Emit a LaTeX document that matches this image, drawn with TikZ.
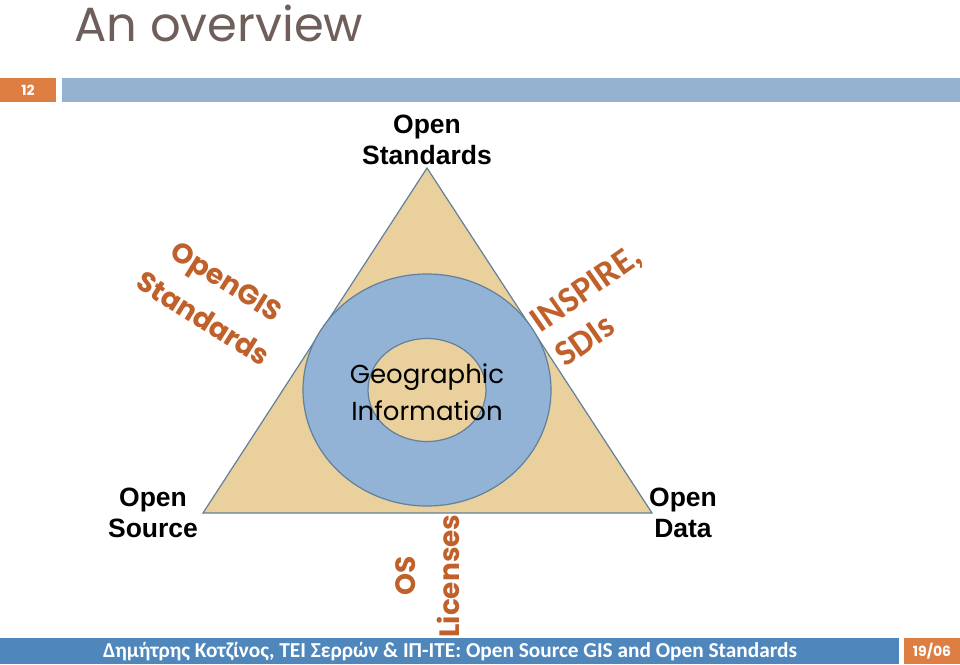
\documentclass[tikz,border=0pt]{standalone}
\usepackage{fontspec}
\setmainfont{Liberation Sans}
\newfontfamily\geofont{Poppins}
\newfontfamily\carlfont{Carlito}
\usetikzlibrary{positioning}

\definecolor{titlegray}{HTML}{6E5F5B}
\definecolor{barblue}{HTML}{94B3D1}
\definecolor{footblue}{HTML}{4F87BD}
\definecolor{slideorange}{HTML}{DF7E42}
\definecolor{tagorange}{HTML}{C0602A}
\definecolor{sand}{HTML}{E9D09C}
\definecolor{ringblue}{HTML}{93B3D6}
\definecolor{rim}{HTML}{61809C}

\begin{document}
\begin{tikzpicture}[x=1pt, y=-1pt,
      corner/.style={align=center, inner sep=0pt,
                     font=\fontsize{26.5}{31}\selectfont\bfseries},
      tag/.style={align=center, inner sep=0pt, text=tagorange,
                  font=\geofont\fontsize{28}{44}\selectfont\bfseries},
      sdi/.style={tag, align=left, font=\carlfont\fontsize{36}{42}\selectfont\bfseries},
      boxtxt/.style={inner sep=0pt, text=white,
                     font=\geofont\fontsize{14}{14}\selectfont\bfseries},
      rimline/.style={draw=rim, line width=1.2pt},
    ]
      \useasboundingbox (0,0) rectangle (960,664);
      \fill[white] (0,0) rectangle (960,664);

      % header
      \node[anchor=base west, inner sep=0pt, text=titlegray,
            font=\geofont\fontsize{48}{48}\selectfont] (title) at (74,41) {An overview};
      \fill[slideorange] (0,78) rectangle (56,102);
      \fill[barblue] (62,78) rectangle (960,102);
      \node[boxtxt] (num) at (28,90) {12};

      % triangle with ring
      \coordinate (apex) at (427,168);
      \coordinate (left) at (203,513);
      \coordinate (right) at (652,513);
      \filldraw[rimline, fill=sand] (apex) -- (left) -- (right) -- cycle;
      \filldraw[rimline, fill=ringblue] (427,390) ellipse [x radius=124pt, y radius=116pt];
      \filldraw[rimline, fill=sand] (427,390) ellipse [x radius=59pt, y radius=51.5pt];
      \node[align=center, inner sep=0pt,
            font=\geofont\fontsize{26}{37}\selectfont] (geo) at (427,392) {Geographic\\Information};

      % corners
      \node[corner] (std) at (427,140) {Open\\Standards};
      \node[corner] (src) at (153,513) {Open\\Source};
      \node[corner] (dat) at (683,513) {Open\\Data};

      % sides
      \node[tag, rotate=-32] (ogc) at (215,300) {OpenGIS\\Standards};
      \node[sdi, rotate=35] (insp) at (598,305) {INSPIRE,\\SDIs};
      \node[tag, rotate=90] (lic) at (428,576) {OS\\Licenses};

      % footer
      \fill[footblue] (0,638) rectangle (899,664);
      \fill[slideorange] (904,638) rectangle (960,664);
      \node[inner sep=0pt, text=white, font=\carlfont\fontsize{21.3}{21}\selectfont\bfseries]
            (foot) at (450,652) {Δημήτρης Κοτζίνος, ΤΕΙ Σερρών \& ΙΠ-ΙΤΕ: Open Source GIS and Open Standards};
      \node[boxtxt] (date) at (932,651) {19/06};
    \end{tikzpicture}
\end{document}
